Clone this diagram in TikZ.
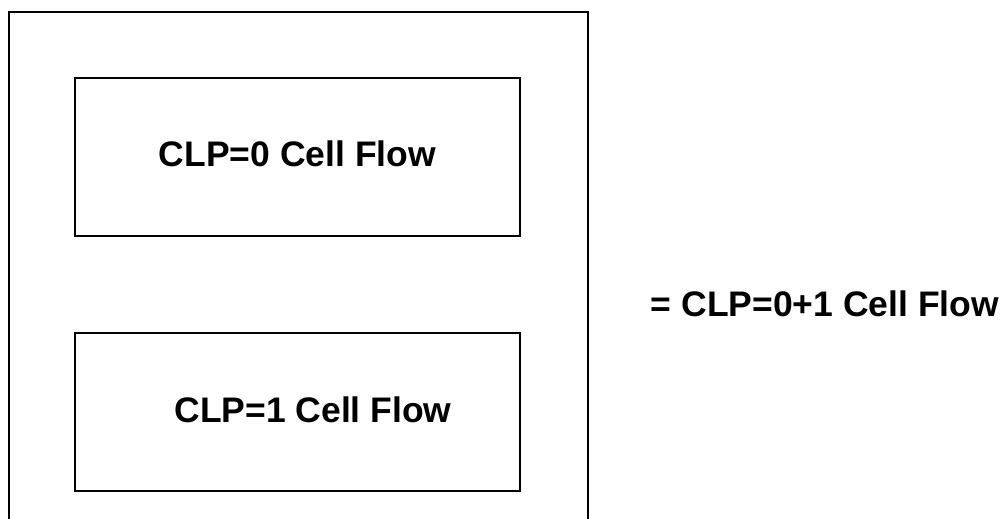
\documentclass[tikz,border=0pt]{standalone}
\usepackage{fontspec}
\setmainfont{Liberation Sans}
\begin{document}
\begin{tikzpicture}[x=1pt,y=-1pt,
  boxline/.style={draw=black,line width=2pt},
  flowbox/.style={boxline,rectangle,inner sep=0pt,minimum width=445pt,minimum height=158pt},
  lbl/.style={inner sep=0pt,anchor=base,font=\fontsize{35.5}{40}\selectfont\bfseries}]
\useasboundingbox (0,0) rectangle (1004,519);
% outer frame (open at the bottom)
\coordinate (ol) at (8.5,525);
\coordinate (otl) at (8.5,12.5);
\coordinate (otr) at (587.5,12.5);
\coordinate (or) at (587.5,525);
\draw[boxline] (ol) -- (otl) -- (otr) -- (or);
% inner boxes
\node[flowbox] (b0) at (297.5,157) {};
\node[flowbox] (b1) at (297.5,412) {};
\node[lbl] (t0) at (297.5,166) {CLP=0 Cell Flow};
\node[lbl] (t1) at (313,422) {CLP=1 Cell Flow};
\node[lbl] (t2) at (825,316) {= CLP=0+1 Cell Flow};
\end{tikzpicture}
\end{document}
